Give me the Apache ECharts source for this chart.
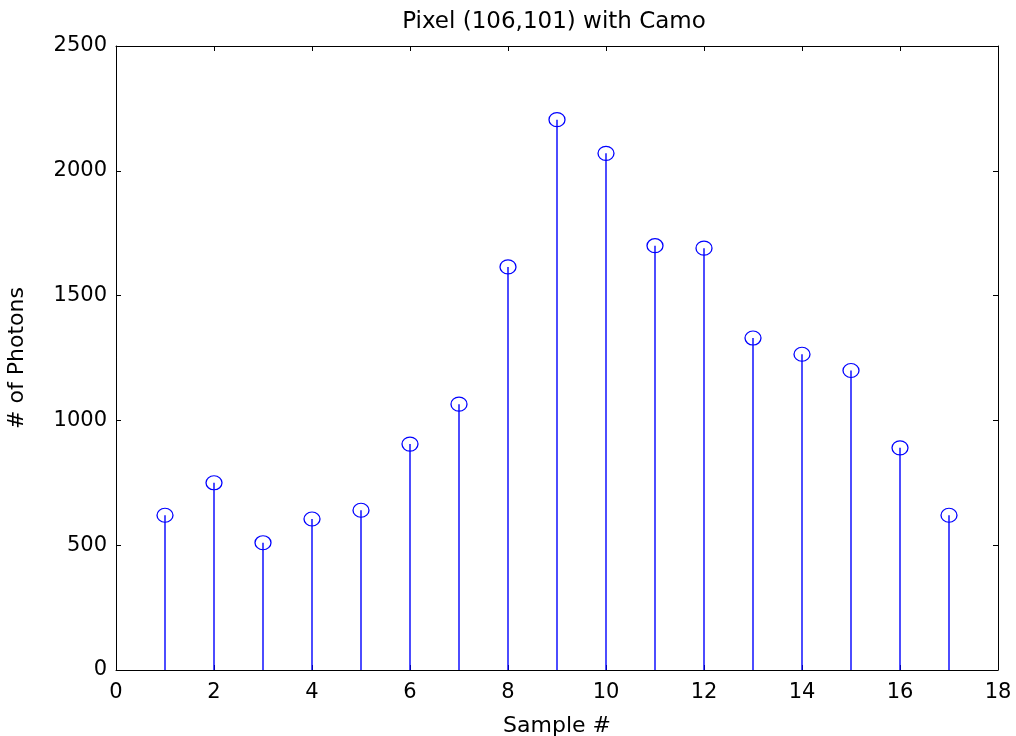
<!DOCTYPE html>
<html><head><meta charset="utf-8">
<script src="https://cdn.jsdelivr.net/npm/echarts@6/dist/echarts.min.js"></script>
<style>html,body{margin:0;padding:0;background:#fff}#c{width:1016px;height:736px}</style>
</head><body><div id="c"></div>
<script>
var samples = [1,2,3,4,5,6,7,8,9,10,11,12,13,14,15,16,17];
var photons = [620,750,510,605,640,905,1065,1615,2205,2070,1700,1690,1330,1265,1200,890,620];
var title = 'Pixel (106,101) with Camo';
var xName = 'Sample #';
var yName = '# of Photons';

var pts = samples.map(function(s,i){return [s, photons[i]];});
var font = 'DejaVu Sans, sans-serif';
var chart = echarts.init(document.getElementById('c'));
function axisCommon(){ return {
  axisLine:{show:true,onZero:false,lineStyle:{color:'#000',width:1}},
  axisTick:{show:true,inside:true,length:5,lineStyle:{color:'#000'}},
  splitLine:{show:false}
};}
chart.setOption({
  animation:false,
  backgroundColor:'#fff',
  title:{text:title,left:549,top:6,textAlign:'center',textStyle:{fontFamily:font,fontSize:23,fontWeight:'normal',color:'#000'}},
  grid:{left:116,right:18,top:46,bottom:66,containLabel:false,outerBoundsMode:'none'},
  xAxis:[
    Object.assign({type:'value',min:0,max:18,interval:2,position:'bottom',
      name:xName,nameLocation:'middle',nameGap:45,nameTextStyle:{fontFamily:font,fontSize:22,color:'#000'},
      axisLabel:{fontFamily:font,fontSize:21,color:'#000',margin:12}},axisCommon()),
    Object.assign({type:'value',min:0,max:18,interval:2,position:'top',axisLabel:{show:false}},axisCommon())
  ],
  yAxis:[
    Object.assign({type:'value',min:0,max:2500,interval:500,position:'left',
      name:yName,nameLocation:'middle',nameGap:88,nameTextStyle:{fontFamily:font,fontSize:22,color:'#000'},
      axisLabel:{fontFamily:font,fontSize:21,color:'#000',margin:9,formatter:function(v){return String(v);}}},axisCommon()),
    Object.assign({type:'value',min:0,max:2500,interval:500,position:'right',axisLabel:{show:false}},axisCommon())
  ],
  series:[
    {type:'custom',xAxisIndex:0,yAxisIndex:0,data:pts,
      renderItem:function(params,api){
        var p0=api.coord([api.value(0),0]);
        var p1=api.coord([api.value(0),api.value(1)]);
        return {type:'line',shape:{x1:p0[0],y1:p0[1],x2:p1[0],y2:p1[1]},style:{stroke:'#0000ff',lineWidth:1.4,fill:null}};
      },z:2},
    {type:'scatter',xAxisIndex:0,yAxisIndex:0,data:pts,symbol:'circle',symbolSize:[16,14],
      itemStyle:{color:'rgba(255,255,255,0)',borderColor:'#0000ff',borderWidth:1.2,opacity:1},z:3}
  ]
});
</script></body></html>
